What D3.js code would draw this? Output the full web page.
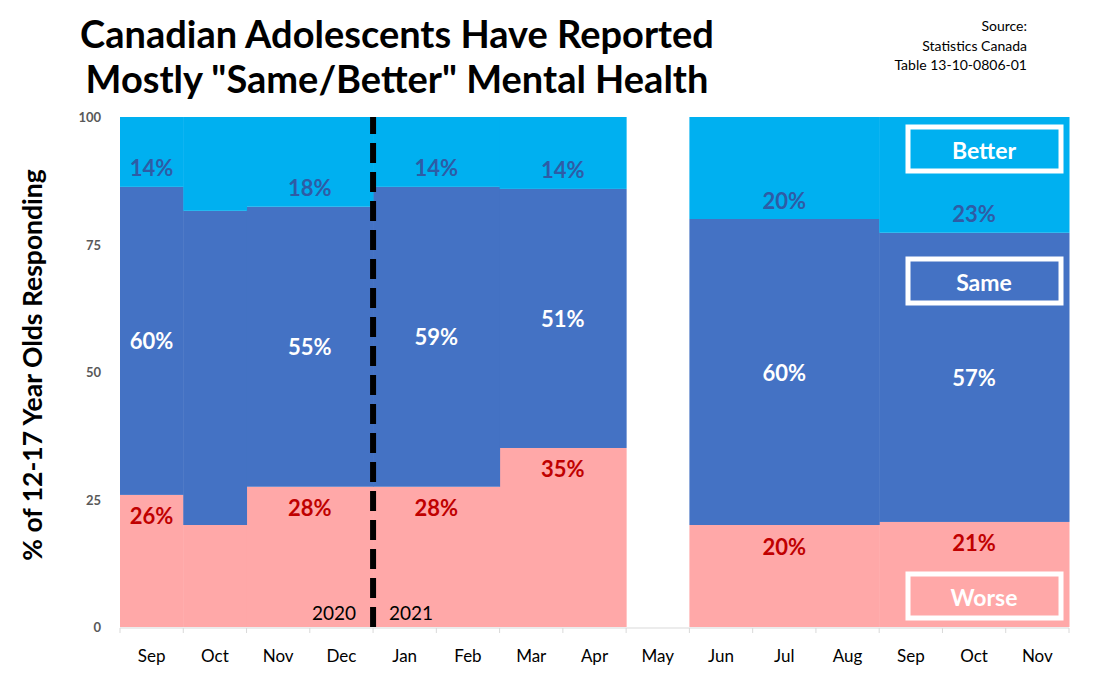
<!DOCTYPE html>
<html>
<head>
<meta charset="utf-8">
<script src="https://cdn.jsdelivr.net/npm/d3@7"></script>
<style>
  body { margin: 0; background: #fff; }
  svg { font-family: Lato, "Open Sans", sans-serif; }
</style>
</head>
<body>
<svg width="1112" height="676"></svg>
<script>
// Month labels along the x axis (Sep 2020 .. Nov 2021)
const months = ["Sep", "Oct", "Nov", "Dec", "Jan", "Feb", "Mar", "Apr", "May",
                "Jun", "Jul", "Aug", "Sep", "Oct", "Nov"];

// Survey periods: first month index and number of months covered
const periodStart = [0, 1, 2, 4, 6, 8, 9, 12];
const periodLength = [1, 1, 2, 2, 2, 1, 3, 3];

// Share of respondents (%) per period, null = no survey
const worse  = [25.9, 20.0, 27.5, 27.5, 35.1, null, 20.0, 20.6];
const same   = [60.4, 61.6, 54.9, 58.8, 50.8, null, 60.0, 56.7];
const better = [13.7, 18.4, 17.6, 13.7, 14.1, null, 20.0, 22.7];
const showLabel = [true, false, true, true, true, false, true, true];

const yTicks = [0, 25, 50, 75, 100];
const yearLabels = ["2020", "2021"];
const yearBreak = 4; // index of Jan 2021

const colors = { worse: "#FFA8A8", same: "#4472C4", better: "#00B0F0" };
const labelColors = { worse: "#C00000", same: "#FFFFFF", better: "#2E5CA6" };

const svg = d3.select("svg");

const margin = { left: 120, right: 43, top: 117, bottom: 49 };
const W = 1112, H = 676;

const x = d3.scaleLinear()
    .domain([0, months.length])
    .range([margin.left, W - margin.right]);

const y = d3.scaleLinear()
    .domain([0, 100])
    .range([H - margin.bottom, margin.top]);

// Build stacked segments
const periods = periodStart.map((s, i) => ({
    start: s, len: periodLength[i],
    worse: worse[i], same: same[i], better: better[i], label: showLabel[i]
})).filter(d => d.worse !== null);

const keys = ["worse", "same", "better"];
const stack = d3.stack().keys(keys)(periods);

const g = svg.append("g");

stack.forEach(layer => {
    g.selectAll(".seg-" + layer.key)
        .data(layer)
        .join("rect")
        .attr("x", d => x(d.data.start))
        .attr("width", d => x(d.data.start + d.data.len) - x(d.data.start) + 0.5)
        .attr("y", d => y(d[1]))
        .attr("height", d => y(d[0]) - y(d[1]))
        .attr("fill", colors[layer.key]);
});

// X axis: ticks at month boundaries, labels at centers
const xAxis = svg.append("g")
    .attr("transform", `translate(0, ${y(0) + 1})`);
xAxis.append("line")
    .attr("x1", x(0)).attr("x2", x(months.length))
    .attr("stroke", "#D9D9D9").attr("stroke-width", 1);
xAxis.selectAll(".tick")
    .data(d3.range(months.length + 1))
    .join("line")
    .attr("x1", d => x(d)).attr("x2", d => x(d))
    .attr("y1", 0).attr("y2", 5)
    .attr("stroke", "#D9D9D9");
xAxis.selectAll(".mlabel")
    .data(months)
    .join("text")
    .attr("x", (d, i) => x(i + 0.5))
    .attr("y", 34)
    .attr("text-anchor", "middle")
    .style("font-size", "17px")
    .attr("fill", "#000")
    .text(d => d);

// Y axis tick labels
svg.selectAll(".ytick")
    .data(yTicks)
    .join("text")
    .attr("x", 101)
    .attr("y", d => y(d) + 5)
    .attr("text-anchor", "end")
    .style("font-size", "13px")
    .style("font-weight", "bold")
    .attr("fill", "#595959")
    .text(d => d);

// Y axis title
svg.append("text")
    .attr("transform", `translate(42, ${(y(0) + y(100)) / 2 - 7}) rotate(-90)`)
    .attr("text-anchor", "middle")
    .style("font-size", "26.5px")
    .style("font-weight", "bold")
    .attr("fill", "#000")
    .text("% of 12-17 Year Olds Responding");

// Data labels
const labelled = periods.filter(d => d.label);
const cx = d => x(d.start + d.len / 2);
const top1 = d => d.worse;
const top2 = d => d.worse + d.same;

const lbl = (cls, yf, key) => svg.selectAll("." + cls)
    .data(labelled)
    .join("text")
    .attr("x", cx)
    .attr("y", yf)
    .attr("text-anchor", "middle")
    .attr("dominant-baseline", "central")
    .style("font-size", "22px")
    .style("font-weight", "bold")
    .attr("fill", labelColors[key])
    .text(d => Math.round(d[key]) + "%");

lbl("lw", d => y(top1(d)) + 21, "worse");
lbl("ls", d => (y(top1(d)) + y(top2(d))) / 2, "same");
lbl("lb", d => y(top2(d)) - 19, "better");

// Year divider (drawn bottom-up so the dash pattern starts at the axis)
svg.append("line")
    .attr("x1", x(yearBreak)).attr("x2", x(yearBreak))
    .attr("y1", y(0)).attr("y2", y(100))
    .attr("stroke", "#000")
    .attr("stroke-width", 6)
    .attr("stroke-dasharray", "20,9");

svg.append("text")
    .attr("x", x(yearBreak) - 17).attr("y", y(0) - 7)
    .attr("text-anchor", "end")
    .style("font-size", "19px")
    .text(yearLabels[0]);
svg.append("text")
    .attr("x", x(yearBreak) + 16).attr("y", y(0) - 7)
    .attr("text-anchor", "start")
    .style("font-size", "19px")
    .text(yearLabels[1]);

// Legend boxes
const legend = [
    { name: "Better", y: 127 },
    { name: "Same", y: 259 },
    { name: "Worse", y: 574 }
];
const lg = svg.selectAll(".legend")
    .data(legend)
    .join("g")
    .attr("transform", d => `translate(908, ${d.y})`);
lg.append("rect")
    .attr("width", 153).attr("height", 44)
    .attr("fill", "none")
    .attr("stroke", "#fff")
    .attr("stroke-width", 5);
lg.append("text")
    .attr("x", 76).attr("y", 23)
    .attr("text-anchor", "middle")
    .attr("dominant-baseline", "central")
    .style("font-size", "23px")
    .style("font-weight", "bold")
    .attr("fill", "#fff")
    .text(d => d.name);

// Title
const title = svg.append("text")
    .attr("text-anchor", "middle")
    .style("font-size", "38px")
    .style("font-weight", "bold")
    .attr("fill", "#000");
title.append("tspan").attr("x", 397).attr("y", 48).text("Canadian Adolescents Have Reported");
title.append("tspan").attr("x", 397).attr("y", 93).text('Mostly "Same/Better" Mental Health');

// Source note
const src = svg.append("text")
    .attr("text-anchor", "end")
    .style("font-size", "14px")
    .attr("fill", "#000");
["Source:", "Statistics Canada", "Table 13-10-0806-01"].forEach((t, i) => {
    src.append("tspan").attr("x", 1027).attr("y", 31 + i * 19.5).text(t);
});
</script>
</body>
</html>
